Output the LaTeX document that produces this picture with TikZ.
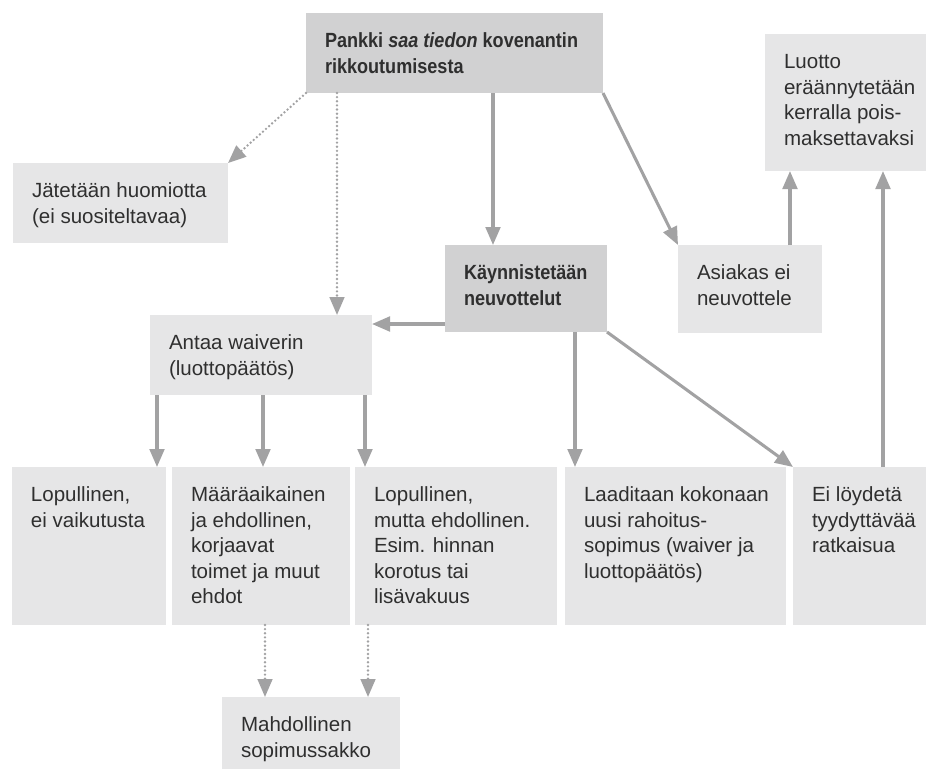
\documentclass[tikz,border=0pt]{standalone}
\usepackage{fontspec}
\setmainfont{Liberation Sans}
\newfontfamily\condfont[FakeStretch=0.88]{Liberation Sans}
\usetikzlibrary{arrows.meta}

\definecolor{boxlight}{HTML}{E6E6E7}
\definecolor{boxdark}{HTML}{D1D1D2}
\definecolor{arrowgray}{HTML}{A2A2A3}
\definecolor{textgray}{HTML}{2F2F2F}

\newlength{\px}
\setlength{\px}{0.75pt}
\newcommand{\bodyfont}{\fontsize{15.4pt}{19.1pt}\selectfont}
\newcommand{\headfont}{\condfont\bfseries\fontsize{15.4pt}{19.1pt}\selectfont}
% box text: width (px), height (px), lines
\newcommand{\boxtxt}[3]{%
  \parbox[c][#2\px][t]{\dimexpr#1\px-38\px\relax}{%
    \vspace*{17\px}\begin{tabular}[t]{@{}l@{}}#3\end{tabular}}}

\begin{document}
\begin{tikzpicture}[
    x=0.75pt, y=-0.75pt,
    % Styles
    box/.style={
        anchor=north west, inner xsep=19\px, inner ysep=0pt,
        outer sep=0pt, text=textgray
    },
    lightbox/.style={box, fill=boxlight, font=\bodyfont},
    darkbox/.style={box, fill=boxdark, font=\headfont},
    arrow/.style={
        draw=arrowgray, line width=2.3pt,
        -{Triangle[length=13.5pt, width=11pt]}
    },
    dotarrow/.style={
        draw=arrowgray, line width=2pt, line cap=round,
        dash pattern=on 0pt off 3.1pt,
        -{Triangle[length=13.5pt, width=11pt]}
    },
]

\useasboundingbox (0,0) rectangle (926,769);

%--- Boxes ---%
\node[darkbox] (pankki) at (306,13)
    {\boxtxt{297}{80}{Pankki \textit{saa tiedon} kovenantin\\rikkoutumisesta}};
\node[lightbox] (huomiotta) at (13,163)
    {\boxtxt{215}{80}{Jätetään huomiotta\\(ei suositeltavaa)}};
\node[lightbox] (luotto) at (765,34)
    {\boxtxt{161}{137}{Luotto\\eräännytetään\\kerralla pois-\\maksettavaksi}};
\node[darkbox] (neuvottelut) at (445,245)
    {\boxtxt{162}{87}{Käynnistetään\\neuvottelut}};
\node[lightbox] (asiakas) at (678,245)
    {\boxtxt{144}{88}{Asiakas ei\\neuvottele}};
\node[lightbox] (waiver) at (150,315)
    {\boxtxt{222}{80}{Antaa waiverin\\(luottopäätös)}};

% bottom row
\node[lightbox] (lopullinen) at (12,467)
    {\boxtxt{154}{158}{Lopullinen,\\ei vaikutusta}};
\node[lightbox] (maaraaik) at (172,467)
    {\boxtxt{178}{158}{Määräaikainen\\ja ehdollinen,\\korjaavat\\toimet ja muut\\ehdot}};
\node[lightbox] (ehdollinen) at (355,467)
    {\boxtxt{202}{158}{Lopullinen,\\mutta ehdollinen.\\Esim. hinnan\\korotus tai\\lisävakuus}};
\node[lightbox] (uusisopimus) at (565,467)
    {\boxtxt{221}{158}{Laaditaan kokonaan\\uusi rahoitus-\\sopimus (waiver ja\\luottopäätös)}};
\node[lightbox] (eiratkaisua) at (793,467)
    {\boxtxt{133}{158}{Ei löydetä\\tyydyttävää\\ratkaisua}};

\node[lightbox] (sakko) at (222,697)
    {\boxtxt{178}{72}{Mahdollinen\\sopimussakko}};

%--- Connectors from the top box ---%
\draw[dotarrow] (pankki.south west) -- (huomiotta.north east);
\coordinate (waiverin) at ([xshift=-35\px]waiver.north east);
\draw[dotarrow] (pankki.south -| waiverin) -- (waiverin);
\coordinate (neuvin) at ([xshift=48\px]neuvottelut.north west);
\draw[arrow] (pankki.south -| neuvin) -- (neuvin);
\draw[arrow] (pankki.south east) -- (asiakas.north west);

%--- Negotiation branch ---%
\coordinate (waiverside) at ([yshift=-9\px]waiver.north east);
\draw[arrow] (neuvottelut.west |- waiverside) -- (waiverside);
\coordinate (uusiin) at ([xshift=10\px]uusisopimus.north west);
\draw[arrow] (neuvottelut.south -| uusiin) -- (uusiin);
\draw[arrow] (neuvottelut.south east) -- (eiratkaisua.north west);

% up to Luotto
\coordinate (luottoa) at ([xshift=25\px]luotto.south west);
\draw[arrow] (asiakas.north -| luottoa) -- (luottoa);
\coordinate (luottob) at ([xshift=118\px]luotto.south west);
\draw[arrow] (eiratkaisua.north -| luottob) -- (luottob);

%--- Waiver outcomes ---%
\foreach \dx/\target in {7/lopullinen, 113/maaraaik, 215/ehdollinen} {
    \coordinate (w\dx) at ([xshift=\dx\px]waiver.south west);
    \draw[arrow] (w\dx) -- (w\dx |- \target.north);
}

% possible penalty
\coordinate (sakkoa) at ([xshift=43\px]sakko.north west);
\draw[dotarrow] (maaraaik.south -| sakkoa) -- (sakkoa);
\coordinate (sakkob) at ([xshift=146\px]sakko.north west);
\draw[dotarrow] (ehdollinen.south -| sakkob) -- (sakkob);

\end{tikzpicture}
\end{document}
